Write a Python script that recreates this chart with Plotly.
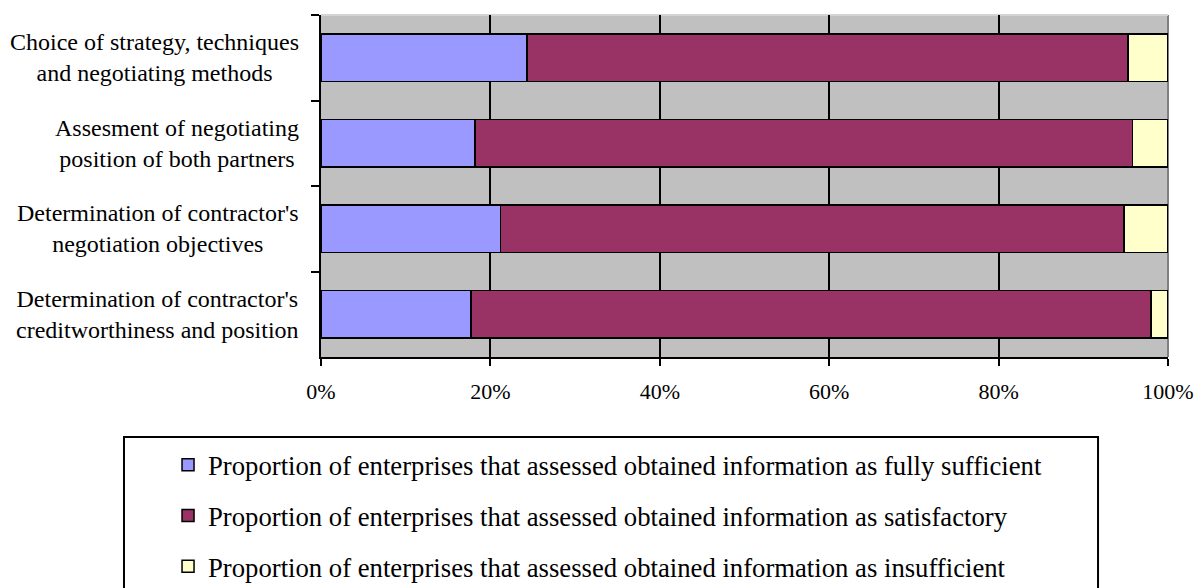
import plotly.graph_objects as go

categories = [
    "Choice of strategy, techniques<br>and negotiating methods",
    "Assesment of negotiating<br>position of both partners",
    "Determination of contractor's<br>negotiation objectives",
    "Determination of contractor's<br>creditworthiness and position",
]
fully_sufficient = [24.3, 18.2, 21.2, 17.7]
satisfactory = [71.0, 77.6, 73.6, 80.3]
insufficient = [4.7, 4.2, 5.2, 2.0]
series_names = [
    "Proportion of enterprises that assessed obtained information as fully sufficient",
    "Proportion of enterprises that assessed obtained information as satisfactory",
    "Proportion of enterprises that assessed obtained information as insufficient",
]
series_values = [fully_sufficient, satisfactory, insufficient]
series_colors = ["#9999FF", "#993366", "#FFFFCC"]
x_ticks = [0, 20, 40, 60, 80, 100]
x_tick_labels = ["0%", "20%", "40%", "60%", "80%", "100%"]

FONT = "Liberation Serif, Times New Roman, serif"

fig = go.Figure()
for name, vals, col in zip(series_names, series_values, series_colors):
    fig.add_trace(go.Bar(
        y=categories, x=vals, name=name, orientation="h",
        marker=dict(color=col, line=dict(color="black", width=1.5)),
        legendgroup=name,
    ))

for cat in categories:
    fig.add_annotation(
        x=0, xref="paper", y=cat, yref="y", text=cat, showarrow=False,
        xanchor="right", xshift=-20, align="center",
        font=dict(family=FONT, size=24, color="black"),
    )

fig.update_layout(
    width=1195, height=588,
    margin=dict(l=321, r=27, t=15, b=231, autoexpand=False),
    paper_bgcolor="white", plot_bgcolor="#C0C0C0",
    barmode="stack", bargap=0.44,
    font=dict(family=FONT, color="black"),
    showlegend=True,
    legend=dict(
        x=-0.1806, xanchor="left", y=-0.2456, yanchor="top",
        bgcolor="rgba(0,0,0,0)", borderwidth=0,
        font=dict(family=FONT, size=26.7, color="black"),
        traceorder="grouped", tracegroupgap=13,
    ),
    xaxis=dict(
        range=[0, 100], tickvals=x_ticks, ticktext=x_tick_labels,
        showgrid=True, gridcolor="black", gridwidth=1.5,
        showline=True, linecolor="black", linewidth=2,
        ticks="outside", ticklen=7, tickwidth=2, tickcolor="black",
        tickfont=dict(family=FONT, size=22, color="black"),
        ticklabelstandoff=7, ticklabeloverflow="allow",
        zeroline=False, fixedrange=True,
    ),
    yaxis=dict(
        autorange="reversed", showticklabels=False,
        showline=True, linecolor="black", linewidth=2,
        ticks="outside", tickson="boundaries", ticklen=8, tickwidth=2,
        tickcolor="black", showgrid=False, fixedrange=True,
    ),
    shapes=[
        dict(type="line", xref="paper", yref="paper", x0=1, x1=1, y0=0, y1=1,
             line=dict(color="#808080", width=2), layer="between"),
        dict(type="line", xref="paper", yref="paper", x0=0, x1=1, y0=1, y1=1,
             line=dict(color="#D4D4D4", width=2), layer="between"),
        dict(type="rect", xref="paper", yref="paper", x0=-0.2326, x1=0.9174,
             y0=-0.2339, y1=-0.80, line=dict(color="black", width=2),
             fillcolor="rgba(0,0,0,0)", layer="above"),
    ],
)

# remove the default 8px body margin so the figure fills the window exactly
fig.write_html(
    "out.html",
    config={"displayModeBar": False},
    post_script="document.body.style.margin='0';document.body.style.overflow='hidden';",
)
